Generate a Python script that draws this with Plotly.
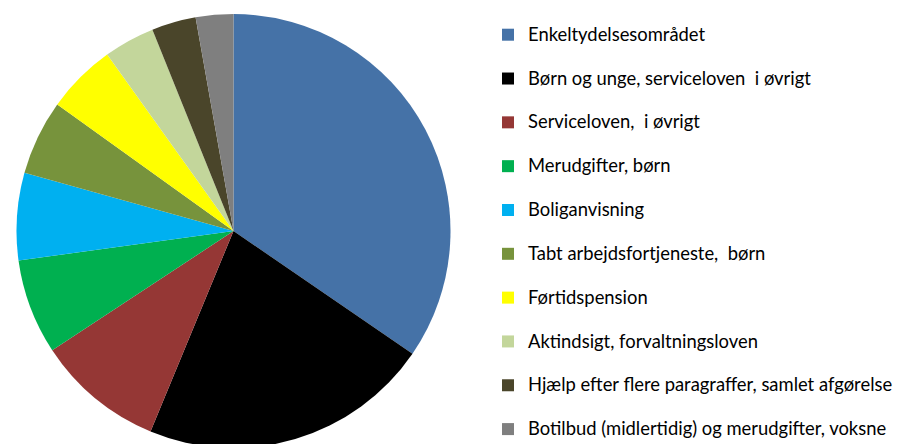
import plotly.graph_objects as go

labels = [
    "Enkeltydelsesområdet",
    "Børn og unge, serviceloven  i øvrigt",
    "Serviceloven,  i øvrigt",
    "Merudgifter, børn",
    "Boliganvisning",
    "Tabt arbejdsfortjeneste,  børn",
    "Førtidspension",
    "Aktindsigt, forvaltningsloven",
    "Hjælp efter flere paragraffer, samlet afgørelse",
    "Botilbud (midlertidig) og merudgifter, voksne",
]
values = [34.6, 21.7, 9.5, 7.1, 6.5, 5.6, 5.2, 3.8, 3.3, 2.8]
colors = ["#4572A7", "#000000", "#953735", "#00B050", "#00B0F0",
          "#77933C", "#FFFF00", "#C3D69B", "#4A452A", "#7F7F7F"]

# legend entries: visible text in larger span, with an empty second line to
# reproduce the wide row spacing of the original legend
legend_labels = []
for i, lab in enumerate(labels):
    txt = "<span style='font-size:18.4px'>" + lab + "</span>"
    if i < len(labels) - 1:
        txt += "<br> "
    legend_labels.append(txt)

fig = go.Figure(go.Pie(
    labels=legend_labels,
    values=values,
    marker=dict(colors=colors, line=dict(width=0)),
    sort=False,
    direction="clockwise",
    rotation=0,
    textinfo="none",
    hoverinfo="skip",
    domain=dict(x=[0, 451 / 904], y=[4 / 444, 438 / 444]),
))

fig.update_layout(
    width=904, height=444,
    margin=dict(l=0, r=0, t=0, b=0, autoexpand=False),
    paper_bgcolor="white",
    plot_bgcolor="white",
    showlegend=True,
    legend=dict(
        x=0.531, xanchor="left",
        y=1 - 10 / 444, yanchor="top",
        valign="top",
        font=dict(family="Lato, Carlito, Calibri, sans-serif", size=15.7, color="#000000"),
        bgcolor="rgba(0,0,0,0)",
        borderwidth=0,
    ),
)

fig.write_html("out.html")
